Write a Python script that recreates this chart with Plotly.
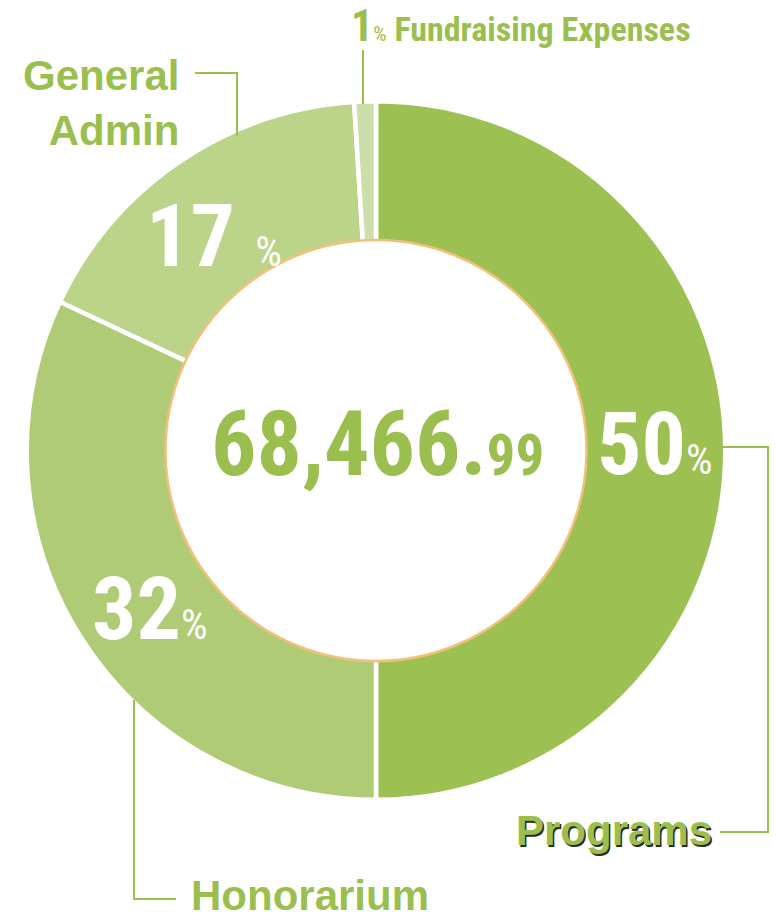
import plotly.graph_objects as go

# ---- data ----
categories = ["Programs", "Honorarium", "General Admin", "Fundraising Expenses"]
values = [50, 32, 17, 1]
slice_colors = ["#9DC052", "#B0CB75", "#BCD48A", "#CCDFAA"]
total_main = "68,466."
total_cents = "99"

W, H = 776, 917
GREEN = "#9BBF4F"
NARROW = "Roboto Condensed, Open Sans Condensed, DejaVu Sans Condensed, sans-serif"
SANS = "Liberation Sans, Arial, Helvetica, sans-serif"

def px(x):
    return x / W

def py(y):
    return 1 - y / H

cx, cy = 376, 450.5
line_w = 4.5
R = 347 + line_w / 2
r_in = 211 - line_w / 2

fig = go.Figure()
fig.add_trace(go.Pie(
    labels=categories, values=values, sort=False, direction="clockwise",
    rotation=0, hole=r_in / R,
    marker=dict(colors=slice_colors, line=dict(color="white", width=line_w)),
    textinfo="none", hoverinfo="skip", showlegend=False,
    domain=dict(x=[px(cx - R), px(cx + R)], y=[py(cy + R), py(cy - R)]),
))

shapes = [
    dict(type="circle", xref="paper", yref="paper",
         x0=px(cx - 210.5), x1=px(cx + 210.5), y0=py(cy + 210.5), y1=py(cy - 210.5),
         line=dict(color="#F3C07C", width=2.5)),
]

def path(points):
    d = "M " + " L ".join(f"{px(x):.5f},{py(y):.5f}" for x, y in points)
    return dict(type="path", xref="paper", yref="paper", path=d,
                line=dict(color=GREEN, width=2))

shapes += [
    path([(195, 73), (237, 73), (237, 136)]),
    path([(363, 50), (363, 104)]),
    path([(722, 447), (768, 447), (768, 832), (720, 832)]),
    path([(134, 700), (134, 899), (176, 899)]),
]

def ann(x, y, text, size, color, family, xanchor="center", align="center", weight="bold", shadow=None):
    f = dict(size=size, color=color, family=family, weight=weight)
    if shadow:
        f["shadow"] = shadow
    return dict(x=px(x), y=py(y), xref="paper", yref="paper", text=text, showarrow=False,
                xanchor=xanchor, yanchor="middle", align=align, font=f,
                borderpad=0, borderwidth=0)

PCT = "<span style='font-size:42px;font-weight:normal'>%</span>"
annotations = [
    ann(377, 445, f"{total_main}<span style='font-size:57px'>{total_cents}</span>", 90, GREEN, NARROW),
    ann(655, 443, f"{values[0]}{PCT}", 88, "white", NARROW),
    ann(150, 608, f"{values[1]}{PCT}", 88, "white", NARROW),
    ann(214, 235, f"{values[2]} {PCT}", 88, "white", NARROW),
    ann(351, 26, f"<span style='font-size:44px'>{values[3]}</span><span style='font-size:21px;font-weight:normal'>%</span> Fundraising Expenses", 34, GREEN, NARROW, xanchor="left"),
    ann(179, 103, "General<br>Admin", 42, GREEN, SANS, xanchor="right", align="right"),
    ann(712, 830, "Programs", 42, GREEN, SANS, xanchor="right", shadow="1.5px 1.5px 0px #2a2a2a"),
    ann(191, 895, "Honorarium", 42, GREEN, SANS, xanchor="left"),
]

fig.update_layout(
    width=W, height=H, margin=dict(l=0, r=0, t=0, b=0),
    paper_bgcolor="white", plot_bgcolor="white",
    shapes=shapes, annotations=annotations,
)

fig.write_html("out.html")
